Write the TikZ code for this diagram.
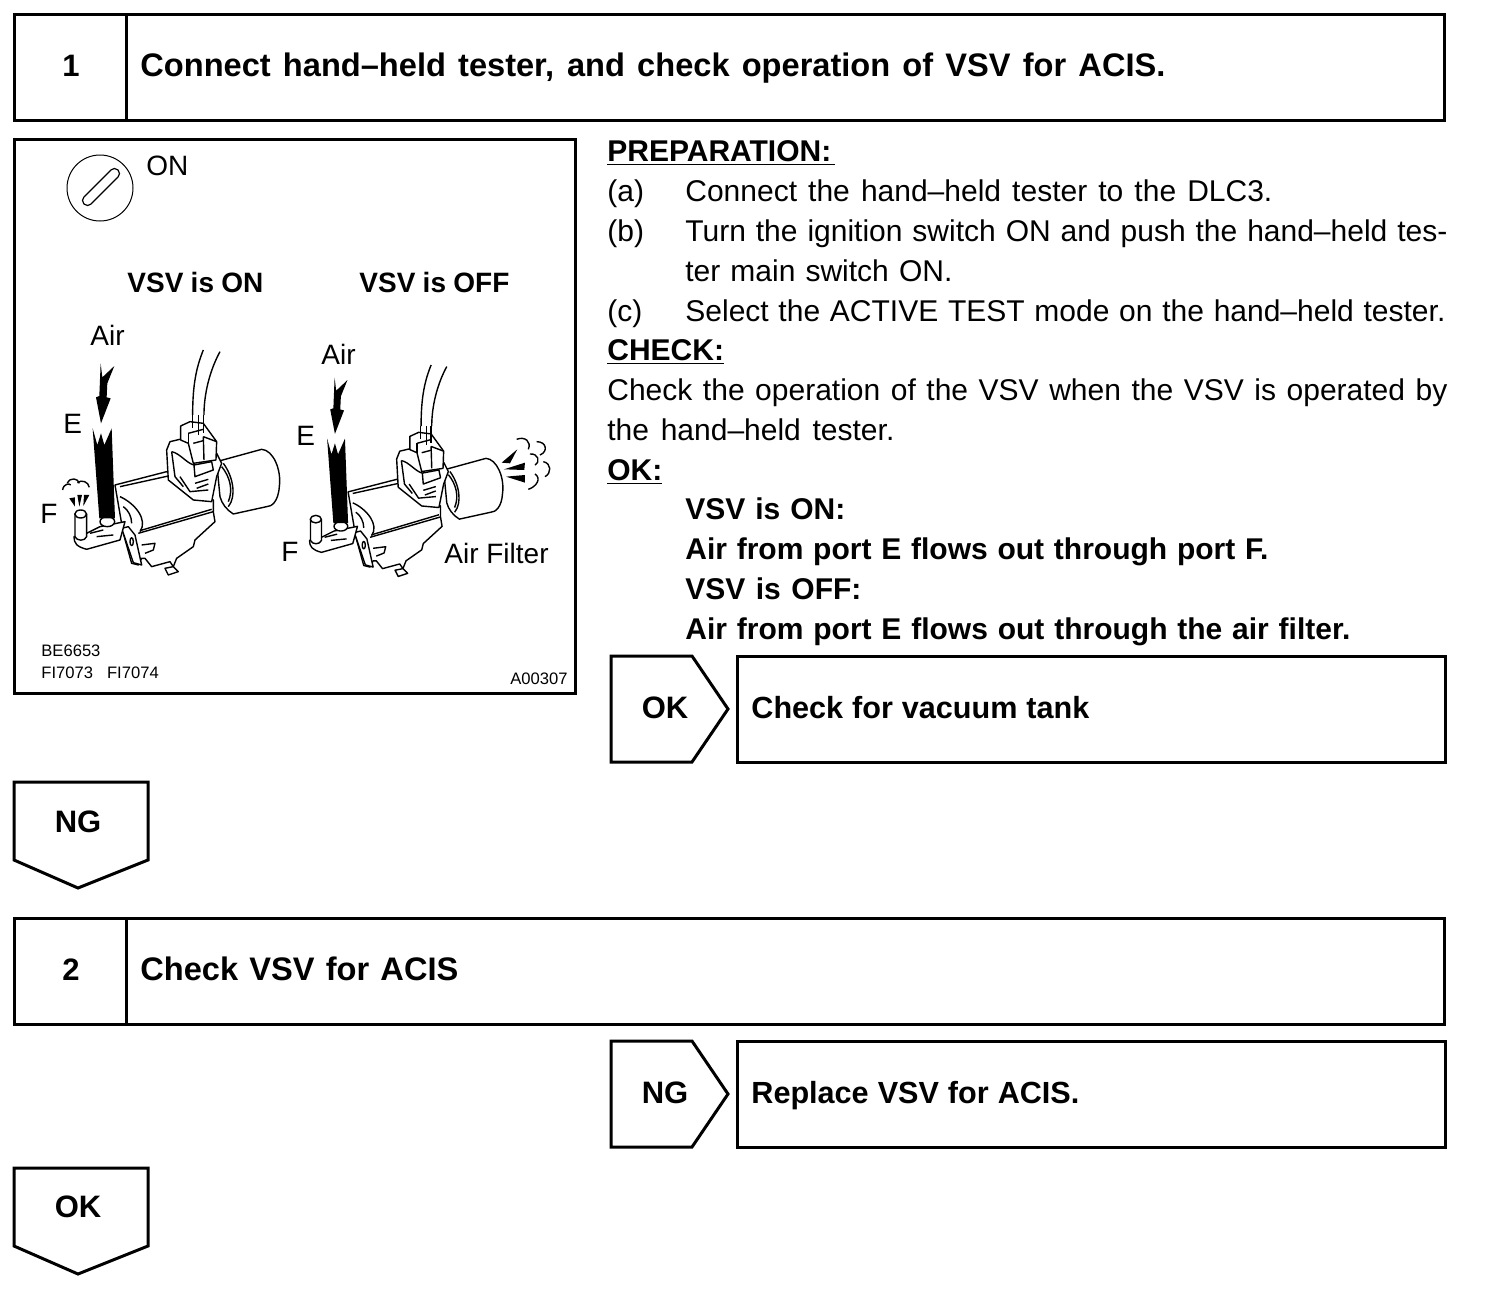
\documentclass[tikz,border=0pt]{standalone}
\usepackage{fontspec}
\setmainfont{Liberation Sans}
\newcommand{\fitw}[2]{\makebox[\dimexpr #1pt/2\relax][s]{#2}}
\newcommand{\vsvpart}{%
  % air filter
  \draw[part] (590,425) -- (725,388) .. controls (760,390) and (785,450) .. (778,500)
    .. controls (775,545) and (755,560) .. (740,560) -- (640,582)
    .. controls (620,570) and (605,550) .. (600,530) -- cycle;
  \draw[part] (610,430) .. controls (640,470) and (650,530) .. (625,560);
  % valve body
  \draw[part] (285,495) -- (440,455) -- (580,540) -- (580,575) -- (585,605) -- (525,660)
    -- (520,680) -- (470,715) -- (460,740) -- (450,725) -- (395,740) -- (375,715) -- (365,715)
    -- (355,735) -- (335,730) -- (310,640) -- cycle;
  \draw[part, fill=none] (300,530) .. controls (345,550) and (385,600) .. (360,635);
  \draw[part, fill=none] (310,560) .. controls (325,570) and (335,590) .. (335,610);
  \draw[part, fill=none] (355,640) -- (580,575);
  \draw[part, fill=none] (360,632) -- (575,568);
  \draw[part, fill=none] (300,500) -- (445,468);
  \draw[part] (435,745) -- (460,740) -- (475,755) -- (445,765) -- cycle;
  \draw[part] (305,625) -- (325,620) -- (345,645) -- (365,735) -- (340,728) -- cycle;
  \draw[part] (335,665) ellipse (5 and 12);
  \draw[part] (365,675) -- (405,670) -- (400,690) -- (375,700);
  % port plate and stub
  \draw[part] (162,650) .. controls (162,670) and (170,680) .. (200,688) -- (300,660)
    -- (315,605) -- (290,610) -- (240,620) -- (200,640) -- cycle;
  \draw[part, fill=none] (210,640) -- (250,630);
  \draw[part, fill=none] (230,650) -- (280,645);
  \draw[part] (165,582) -- (165,650) .. controls (170,664) and (195,664) .. (200,650) -- (200,582);
  \draw[part] (182,582) ellipse (17.5 and 12);
  \draw[part] (262,605) ellipse (22 and 15);
  % connector clamp and blocks
  \draw[part] (505,352) -- (450,365) -- (440,390) -- (445,480) -- (470,500) -- (520,540)
    -- (575,545) -- (590,470) -- (605,430) -- (590,400) -- cycle;
  \draw[part, fill=none] (455,395) -- (465,470) -- (490,500);
  \draw[part, fill=none] (455,395) .. controls (480,400) and (500,430) .. (522,435);
  \draw[part, fill=none] (480,470) -- (510,515) -- (565,510);
  \draw[part] (522,435) -- (575,425) -- (580,450) -- (525,470) -- cycle;
  \draw[part, fill=none] (525,490) -- (565,478);
  \draw[part, fill=none] (530,505) -- (565,492);
  \draw[part, fill=none] (605,440) .. controls (630,470) and (640,510) .. (625,545);
  \draw[part] (482,318) -- (510,305) -- (550,310) -- (590,365) -- (588,420) -- (520,430) -- (505,370) -- (482,360) -- cycle;
  \draw[part, fill=none] (505,340) -- (550,328);
  \draw[part, fill=none] (505,340) -- (505,370);
  \draw[part, fill=none] (550,350) -- (590,365);
  \draw[part, fill=none] (550,350) -- (552,420);
  \draw[part, fill=none] (520,370) -- (550,362);
  % hose and wires
  \draw[part] (517,285) -- (517,325);
  \draw[part] (535,285) -- (535,345);
  \draw[part] (550,285) -- (550,340);
  \draw[part, fill=none] (550,90) .. controls (530,140) and (518,190) .. (518,285);
  \draw[part, fill=none] (600,95) .. controls (570,150) and (552,220) .. (552,285);
  % air arrow and tube
  \fill (242,130) -- (247,172) -- (283,138) -- (262,190) -- (260,232) -- (272,235) -- (243,310)
    -- (228,232) -- (238,228) -- cycle;
  \fill (218,325) -- (232,375) -- (243,340) -- (253,375) -- (275,325) -- (285,595)
    -- (238,595) -- cycle;
}
\begin{document}
\begin{tikzpicture}[x=0.5pt, y=-0.5pt,
  boxline/.style={draw, line width=1.5pt, line join=miter},
  part/.style={draw, fill=white, line width=0.7pt, line join=round},
  plain/.style={anchor=base west, inner sep=0pt, font=\fontsize{15}{18}\selectfont},
  bold/.style={plain, font=\fontsize{15}{18}\selectfont\bfseries},
  title/.style={plain, font=\fontsize{16.3}{20}\selectfont\bfseries},
  action/.style={plain, font=\fontsize{15.3}{18}\selectfont\bfseries},
  num/.style={anchor=base, inner sep=0pt, font=\fontsize{15.5}{18}\selectfont\bfseries},
  lab/.style={plain, font=\fontsize{14}{17}\selectfont},
  labb/.style={lab, font=\fontsize{14}{17}\selectfont\bfseries},
  tiny/.style={plain, font=\fontsize{8.3}{10}\selectfont}]
\useasboundingbox (0,0) rectangle (1504,1306);
% step 1
\draw[boxline] (14,14) rectangle (1444,120);
\draw[boxline] (126,14) -- (126,120);
\node[num] (num1) at (71,76.5) {1};
\node[title] (title1) at (140,76.5) {\fitw{1025}{Connect hand–held tester, and check operation of VSV for ACIS.}};
% figure
\draw[boxline] (14,139) rectangle (575,693);
\draw[line width=0.5pt] (100,188) circle (33);
\node[draw, line width=0.6pt, rotate=45, minimum width=24pt, minimum height=5pt, inner sep=0pt,
  rounded corners=2.4pt] (slot) at (101,187) {};
\node[lab] (on) at (146,175) {ON};
\node[labb] (vsvon) at (127,292) {\fitw{136}{VSV is ON}};
\node[labb] (vsvoff) at (359,292) {\fitw{150}{VSV is OFF}};
\begin{scope}[shift={(20,320)}, scale=0.3333]
\vsvpart
% exhaust at port F
\draw[part, fill=none] (128,510) .. controls (130,490) and (150,490) .. (152,495);
\draw[part, fill=none] (142,490) .. controls (150,470) and (175,475) .. (178,490);
\draw[part, fill=none] (172,488) .. controls (185,478) and (205,485) .. (208,502);
\fill (148,535) -- (165,532) -- (165,560) -- cycle;
\fill (172,525) -- (186,525) -- (178,560) -- cycle;
\fill (192,525) -- (208,525) -- (190,558) -- cycle;
\end{scope}
\begin{scope}[shift={(258.8,336.8)}, scale=0.3133]
\vsvpart
\end{scope}
\begin{scope}[shift={(280,330)}, scale=0.3333]
% exhaust at filter
\fill (665,398) -- (712,358) -- (690,400) -- cycle;
\fill (672,418) -- (735,398) -- (733,420) -- cycle;
\fill (678,440) -- (735,435) -- (735,458) -- cycle;
\draw[part, fill=none] (710,328) .. controls (735,318) and (755,335) .. (745,358);
\draw[part, fill=none] (770,335) .. controls (800,335) and (805,365) .. (780,375);
\draw[part, fill=none] (750,372) .. controls (775,370) and (782,395) .. (765,405);
\draw[part, fill=none] (790,395) .. controls (815,400) and (815,430) .. (795,440);
\draw[part, fill=none] (765,432) .. controls (785,445) and (770,470) .. (745,478);
\end{scope}
\node[lab] (air1) at (90,345) {Air};
\node[lab] (e1) at (63,433) {E};
\node[lab] (f1) at (40,523) {F};
\node[lab] (air2) at (321,364) {Air};
\node[lab] (e2) at (296,445) {E};
\node[lab] (f2) at (281,561) {F};
\node[lab] (filter) at (444,563) {Air Filter};
\node[tiny] (be) at (41,656) {BE6653};
\node[tiny] (fi) at (41,678) {FI7073\hspace{7pt}FI7074};
\node[tiny] (fig) at (510,684) {A00307};
% instructions
\node[bold] (prep) at (607,161) {\underline{\fitw{228}{PREPARATION:}}};
\node[plain] (a) at (607,201) {(a)};
\node[plain] (atext) at (685,201) {\fitw{587}{Connect the hand–held tester to the DLC3.}};
\node[plain] (b) at (607,241) {(b)};
\node[plain] (btext) at (685,241) {\fitw{762}{Turn the ignition switch ON and push the hand–held tes-}};
\node[plain] (btext2) at (685,281) {\fitw{267}{ter main switch ON.}};
\node[plain] (c) at (607,321) {(c)};
\node[plain] (ctext) at (685,321) {\fitw{760}{Select the ACTIVE TEST mode on the hand–held tester.}};
\node[bold] (check) at (607,360) {\underline{CHECK:}};
\node[plain] (ctxt) at (607,400) {\fitw{840}{Check the operation of the VSV when the VSV is operated by}};
\node[plain] (ctxt2) at (607,440) {\fitw{287}{the hand–held tester.}};
\node[bold] (ok) at (607,480) {\underline{OK:}};
\node[bold] (ok1) at (685,519) {\fitw{160}{VSV is ON:}};
\node[bold] (ok2) at (685,559) {\fitw{583}{Air from port E flows out through port F.}};
\node[bold] (ok3) at (685,599) {\fitw{176}{VSV is OFF:}};
\node[bold] (ok4) at (685,639) {\fitw{665}{Air from port E flows out through the air filter.}};
% OK branch
\draw[boxline] (611,656) -- (692,656) -- (728,709) -- (692,762) -- (611,762) -- cycle;
\node[num] (oklab) at (665,718) {OK};
\draw[boxline] (737,656) rectangle (1445,762);
\node[action] (tank) at (751,718) {\fitw{338}{Check for vacuum tank}};
% NG down
\draw[boxline] (14,782) -- (148,782) -- (148,860) -- (78,888) -- (14,860) -- cycle;
\node[num] (nglab) at (78,832) {NG};
% step 2
\draw[boxline] (14,918) rectangle (1444,1024);
\draw[boxline] (126,918) -- (126,1024);
\node[num] (num2) at (71,980.5) {2};
\node[title] (title2) at (140,980.5) {\fitw{318}{Check VSV for ACIS}};
% NG branch
\draw[boxline] (611,1041) -- (692,1041) -- (728,1094) -- (692,1147) -- (611,1147) -- cycle;
\node[num] (nglab2) at (665,1103) {NG};
\draw[boxline] (737,1041) rectangle (1445,1147);
\node[action] (replace) at (751,1103) {\fitw{328}{Replace VSV for ACIS.}};
% OK down
\draw[boxline] (14,1168) -- (148,1168) -- (148,1246) -- (78,1274) -- (14,1246) -- cycle;
\node[num] (oklab2) at (78,1217) {OK};
\end{tikzpicture}
\end{document}
